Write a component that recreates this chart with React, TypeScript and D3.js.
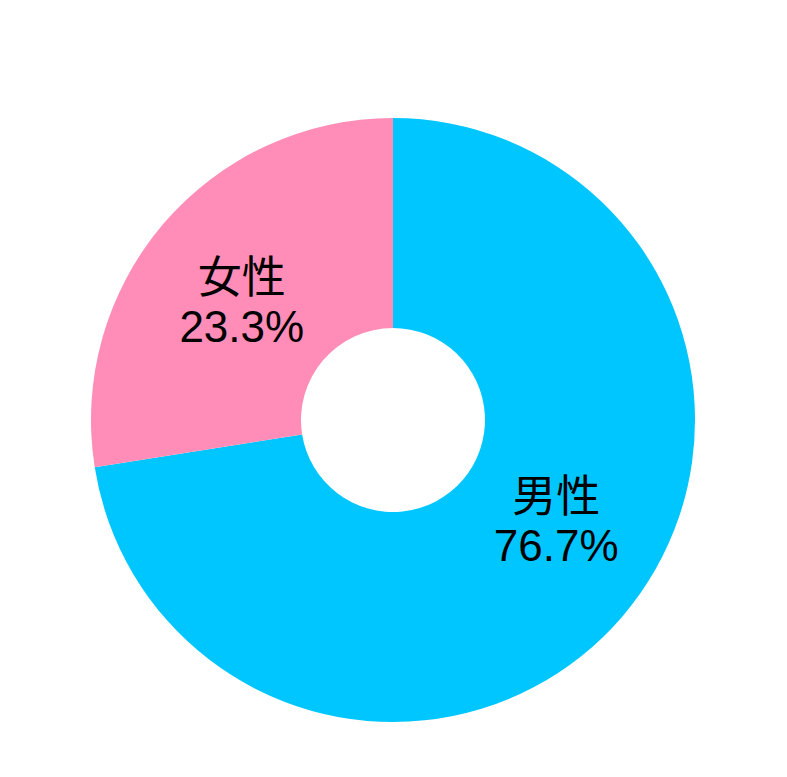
import * as d3 from "d3";

// Slice sizes as drawn in the picture, and the labels printed on them
const CATEGORIES = ["男性", "女性"];
const SHARES = [72.5, 27.5];
const PERCENT_LABELS = ["76.7%", "23.3%"];
const COLORS = ["#00c6ff", "#ff8db7"];

const WIDTH = 787;
const HEIGHT = 777;
const CX = 393;
const CY = 420;
const OUTER = 302;
const INNER = 92;
const LABEL_RADIUS = 191;
const LABEL_NUDGE = [
  [18, -25],
  [-6, 4],
];
const FONT = '"Liberation Sans", Arial, "Noto Sans CJK JP", sans-serif';

type Slice = d3.PieArcDatum<number>;

export default function App() {
  const pie = d3.pie<number>().sort(null).value((d) => d);
  const slices = pie(SHARES);
  const arc = d3.arc<Slice>().innerRadius(INNER).outerRadius(OUTER);
  const labelArc = d3.arc<Slice>().innerRadius(LABEL_RADIUS).outerRadius(LABEL_RADIUS);

  return (
    <div style={{ position: "absolute", left: 0, top: 0, background: "#fff" }}>
      <svg width={WIDTH} height={HEIGHT} viewBox={`0 0 ${WIDTH} ${HEIGHT}`} style={{ display: "block" }}>
        <rect width={WIDTH} height={HEIGHT} fill="#fff" />
        <g transform={`translate(${CX} ${CY})`}>
          {slices.map((slice, i) => (
            <path key={CATEGORIES[i]} d={arc(slice) ?? undefined} fill={COLORS[i]} />
          ))}
          {slices.map((slice, i) => {
            const [x, y] = labelArc.centroid(slice);
            const lx = x + LABEL_NUDGE[i][0];
            const ly = y + LABEL_NUDGE[i][1];
            return (
              <text key={`label-${i}`} x={lx} y={ly} textAnchor="middle" fill="#000" fontFamily={FONT} fontSize="44">
                <tspan x={lx} dy="-7">
                  {CATEGORIES[i]}
                </tspan>
                <tspan x={lx} dy="49">
                  {PERCENT_LABELS[i]}
                </tspan>
              </text>
            );
          })}
        </g>
      </svg>
    </div>
  );
}
